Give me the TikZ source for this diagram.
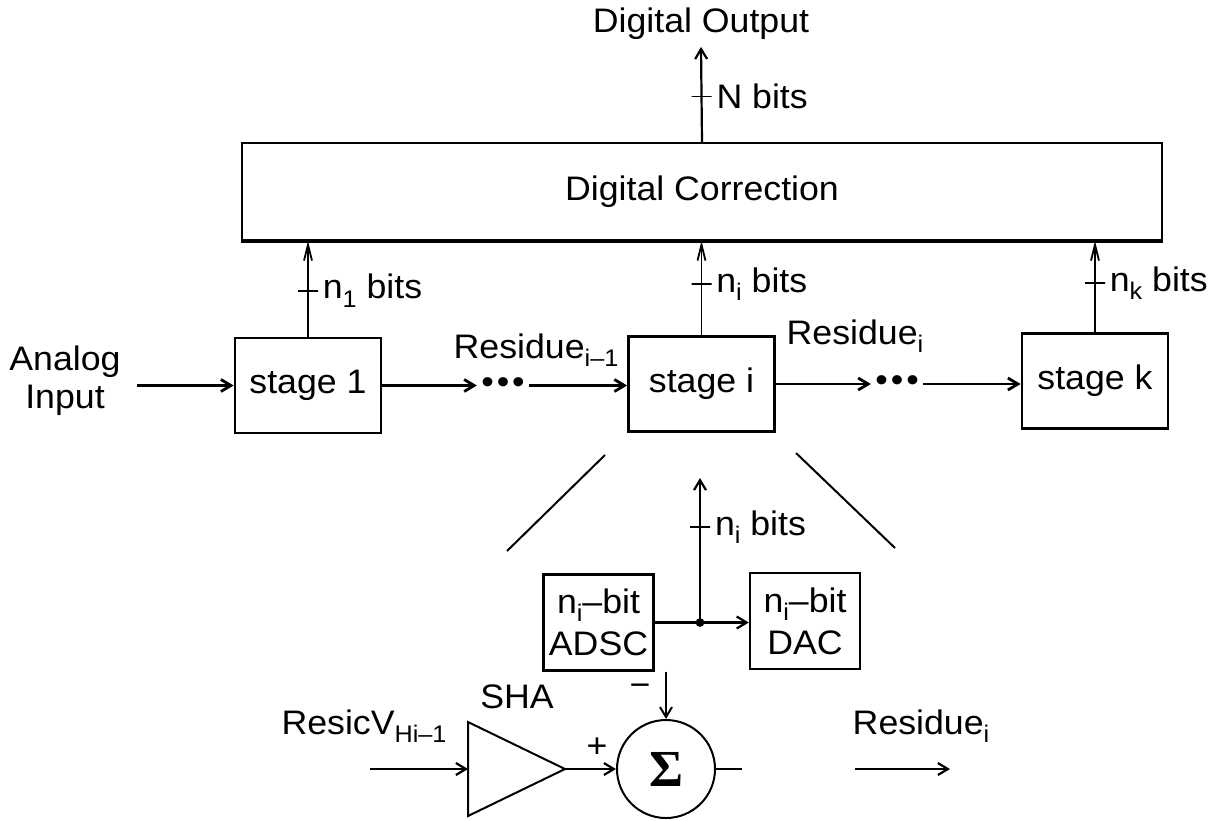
\documentclass[tikz,border=0pt]{standalone}
\usepackage{fontspec}
\setmainfont[FakeStretch=1.05]{Liberation Sans}
\newfontfamily\sigmafont{Liberation Serif}
\usetikzlibrary{arrows.meta, positioning, shapes.geometric}
\newcommand{\lsub}[1]{\raisebox{-0.45ex}{\fontsize{12}{12}\selectfont #1}}

\begin{document}
\begin{tikzpicture}[
  x=0.5pt, y=-0.5pt,
  font=\fontsize{17}{19}\selectfont,
  stagebox/.style={draw, line width=1.4pt, minimum width=73pt, minimum height=47.5pt, inner sep=0pt},
  subbox/.style={draw, line width=1.2pt, minimum width=55pt, minimum height=48pt, inner sep=0pt, align=center, font=\fontsize{17}{21}\selectfont},
  arrow/.style={-{Straight Barb[length=5pt,width=6pt]}, line width=1.4pt},
  uparrow/.style={-{Straight Barb[length=8pt,width=4pt]}, line width=0.9pt},
  tickmark/.style={draw, line width=0.9pt, inner sep=0pt, minimum width=10pt, minimum height=0pt},
  dotrow/.style={inner sep=2pt},
  every label/.style={inner sep=1.5pt}
]
\useasboundingbox (0,0) rectangle (1230,820);

% top row
\node[draw, line width=0.9pt, minimum width=460pt, minimum height=48.5pt] (corr) at (702,191.5) {Digital Correction};
\draw[line width=2pt] (corr.south west) -- (corr.south east);
\node (dout) at (701,24) {Digital Output};

\node[stagebox] (stage1) at (308,385.5) {stage 1};
\node[stagebox] (stagei) at (701.5,384) {stage i};
\node[stagebox] (stagek) at (1095,381) {stage k};

\node[align=center] (ain) at (65,381) {Analog\\Input};
\node[dotrow] (dots1) at (503,385.5) {•\kern1.5pt•\kern1.5pt•};
\node[dotrow] (dotsi) at (897,384) {•\kern1.5pt•\kern1.5pt•};
\node (res1) at (536,350) {Residue\lsub{i–1}};
\node (res2) at (855,336) {Residue\lsub{i}};

\draw[arrow] ([xshift=4.5pt]ain.east |- stage1.west) -- (stage1.west);
\draw[arrow] (stage1.east) -- (dots1.west);
\draw[arrow] (dots1.east) -- (dots1.east -| stagei.west);
\draw[arrow] (stagei.east) -- (dotsi.west);
\draw[arrow] (dotsi.east) -- (dotsi.east -| stagek.west);

\draw[uparrow] (stage1.north) -- (stage1.north |- corr.south) node[tickmark, pos=0.48, label={right:n\lsub{1} bits}] {};
\draw[uparrow] (stagei.north) -- (stagei.north |- corr.south) node[tickmark, pos=0.54, label={right:n\lsub{i} bits}] {};
\draw[uparrow] (stagek.north) -- (stagek.north |- corr.south) node[tickmark, pos=0.54, label={right:n\lsub{k} bits}] {};
\draw[arrow, line width=1.1pt] (corr.north) -- (dout.south) node[tickmark, pos=0.48, label={right:N bits}] {};

% expanded stage
\draw[line width=1pt] (605,455) -- (507,551);
\draw[line width=1pt] (796,453) -- (895,548);

\node[subbox] (adsc) at (598.5,622.5) {n\lsub{i}–bit\\ADSC};
\node[subbox] (dac) at (805,621) {n\lsub{i}–bit\\DAC};
\coordinate (jn) at (700,622.5);
\coordinate (ntop) at (700,478);
\draw[arrow, line width=1.1pt] (adsc.east) -- (adsc.east -| dac.west);
\fill (jn) circle (2.2pt);
\draw[arrow, line width=1.1pt] (jn) -- (ntop) node[tickmark, pos=0.66, label={right:n\lsub{i} bits}] {};

\node[isosceles triangle, draw, line width=1pt, inner sep=0pt, outer sep=0pt, isosceles triangle stretches, minimum width=47pt, minimum height=48.5pt, anchor=lower side] (sha) at (468,769) {};
\node[circle, draw, line width=1pt, minimum size=49pt, inner sep=0pt, font=\sigmafont\bfseries\fontsize{26}{26}\selectfont] (sum) at (666,769) {Σ};
\node (shalbl) at (517,697) {SHA};
\node (reslbl) at (364,726) {ResicV\lsub{Hi–1}};
\node (plus) at (597,748) {+};
\node (minus) at (640,690) {−};

\coordinate (rin) at (370,769);
\coordinate (sumout) at (742,769);
\coordinate (rout1) at (855,769);
\coordinate (rout2) at (950,769);
\node (res3) at (921,726) {Residue\lsub{i}};

\draw[arrow, line width=1.1pt] (rin) -- (sha.lower side);
\draw[arrow, line width=1.1pt] (sha.apex) -- (sum.west);
\draw[arrow, line width=1pt] (sum.north |- adsc.south) -- (sum.north);
\draw[line width=1.2pt] (sum.east) -- (sumout);
\draw[arrow, line width=1.1pt] (rout1) -- (rout2);
\end{tikzpicture}
\end{document}
